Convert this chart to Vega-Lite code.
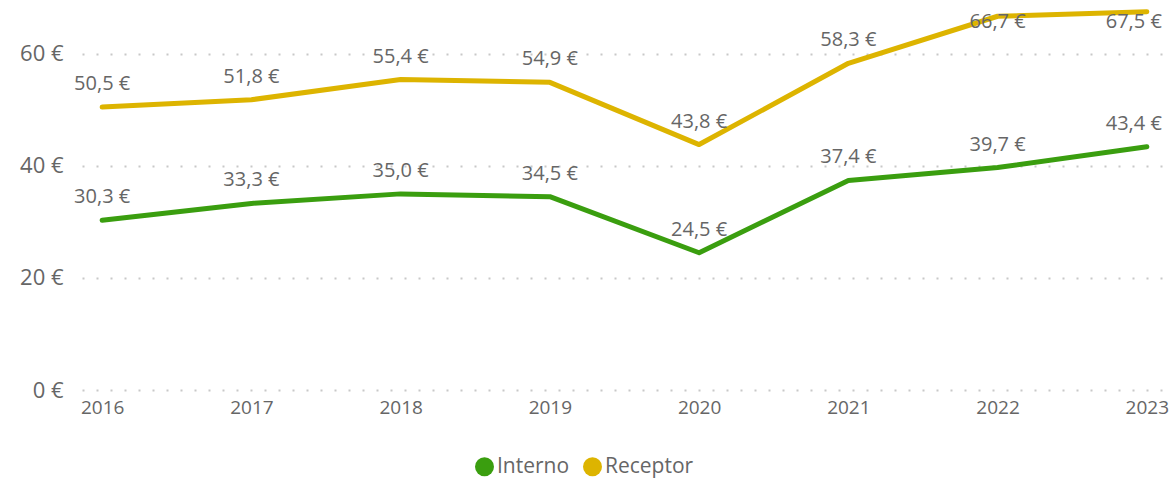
{
  "$schema": "https://vega.github.io/schema/vega-lite/v6.json",
  "width": 1085,
  "height": 390,
  "autosize": {"type": "none"},
  "padding": {"left": 82, "top": 0, "right": 9, "bottom": 90},
  "config": {
    "view": {"stroke": null},
    "font": "Open Sans",
    "locale": {"number": {"decimal": ",", "thousands": ".", "grouping": [3], "currency": ["", " €"]}}
  },
  "data": {"values": [
    {"year": "2016", "series": "Interno", "value": 30.3},
    {"year": "2017", "series": "Interno", "value": 33.3},
    {"year": "2018", "series": "Interno", "value": 35.0},
    {"year": "2019", "series": "Interno", "value": 34.5},
    {"year": "2020", "series": "Interno", "value": 24.5},
    {"year": "2021", "series": "Interno", "value": 37.4},
    {"year": "2022", "series": "Interno", "value": 39.7},
    {"year": "2023", "series": "Interno", "value": 43.4},
    {"year": "2016", "series": "Receptor", "value": 50.5},
    {"year": "2017", "series": "Receptor", "value": 51.8},
    {"year": "2018", "series": "Receptor", "value": 55.4},
    {"year": "2019", "series": "Receptor", "value": 54.9},
    {"year": "2020", "series": "Receptor", "value": 43.8},
    {"year": "2021", "series": "Receptor", "value": 58.3},
    {"year": "2022", "series": "Receptor", "value": 66.7},
    {"year": "2023", "series": "Receptor", "value": 67.5}
  ]},
  "encoding": {
    "x": {"field": "year", "type": "ordinal", "scale": {"type": "point", "padding": 0.135},
      "axis": {"title": null, "labelAngle": 0, "ticks": false, "domain": false, "labelFontSize": 19, "labelColor": "#666666", "labelPadding": 8}},
    "y": {"field": "value", "type": "quantitative", "scale": {"domain": [0, 69.6], "nice": false},
      "axis": {"title": null, "values": [0, 20, 40, 60], "format": "$.0f", "ticks": false, "domain": false, "labelFontSize": 22, "labelColor": "#666666", "labelPadding": 19, "gridColor": "#c8c8c8", "gridDash": [2, 12], "gridWidth": 2}}
  },
  "layer": [
    {"mark": {"type": "line", "strokeWidth": 5, "strokeCap": "round", "strokeJoin": "round"},
      "encoding": {"color": {"field": "series", "type": "nominal",
        "scale": {"domain": ["Interno", "Receptor"], "range": ["#3A9E0F", "#DDB400"]},
        "legend": {"title": null, "orient": "none", "legendX": 392, "legendY": 456, "direction": "horizontal", "symbolType": "circle", "symbolSize": 360, "symbolStrokeWidth": 0, "labelFontSize": 21, "labelColor": "#666666", "labelOffset": 2, "columnPadding": 12,
          "encode": {"symbols": {"update": {"fill": {"scale": "color", "field": "value"}, "opacity": {"value": 1}}}}}}}},
    {"transform": [{"filter": "datum.value < 62 && datum.year != '2023'"}, {"calculate": "format(datum.value, '.1f') + ' €'", "as": "label"}],
      "mark": {"type": "text", "dy": -23, "fontSize": 20, "color": "#666666"},
      "encoding": {"text": {"field": "label"}}},
    {"transform": [{"filter": "datum.value < 62 && datum.year == '2023'"}, {"calculate": "format(datum.value, '.1f') + ' €'", "as": "label"}],
      "mark": {"type": "text", "dy": -23, "dx": 15, "align": "right", "fontSize": 20, "color": "#666666"},
      "encoding": {"text": {"field": "label"}}},
    {"transform": [{"filter": "datum.value >= 62 && datum.year != '2023'"}, {"calculate": "format(datum.value, '.1f') + ' €'", "as": "label"}],
      "mark": {"type": "text", "dy": 6, "fontSize": 20, "color": "#666666"},
      "encoding": {"text": {"field": "label"}}},
    {"transform": [{"filter": "datum.value >= 62 && datum.year == '2023'"}, {"calculate": "format(datum.value, '.1f') + ' €'", "as": "label"}],
      "mark": {"type": "text", "dy": 10, "dx": 15, "align": "right", "fontSize": 20, "color": "#666666"},
      "encoding": {"text": {"field": "label"}}}
  ]
}
